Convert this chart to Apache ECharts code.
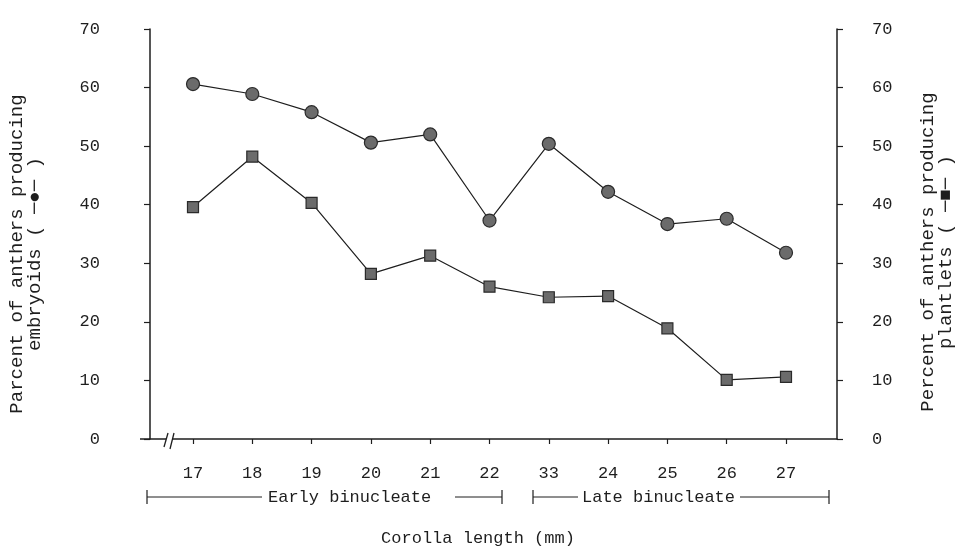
<!DOCTYPE html>
<html>
<head>
<meta charset="utf-8">
<script src="https://cdn.jsdelivr.net/npm/echarts@6/dist/echarts.min.js"></script>
<style>
html,body{margin:0;padding:0;background:#fff;}
#c{width:959px;height:550px;}
</style>
</head>
<body>
<div id="c"></div>
<script>
// Corolla length (mm) positions
const corollaLength = [17, 18, 19, 20, 21, 22, 23, 24, 25, 26, 27];
// tick labels as printed in the figure
const tickLabels = ['17', '18', '19', '20', '21', '22', '33', '24', '25', '26', '27'];
// Percent of anthers producing embryoids (circles)
const embryoids = [60.6, 58.9, 55.8, 50.6, 52.0, 37.3, 50.4, 42.2, 36.7, 37.6, 31.8];
// Percent of anthers producing plantlets (squares)
const plantlets = [39.6, 48.2, 40.3, 28.2, 31.3, 26.0, 24.2, 24.4, 18.9, 10.1, 10.6];
const yTicks = [0, 10, 20, 30, 40, 50, 60, 70];

const FONT = "'Liberation Mono', 'Courier New', 'DejaVu Sans Mono', monospace";
const INK = '#1e1e1e';

const chart = echarts.init(document.getElementById('c'), null, {renderer: 'canvas'});

const pairs = (ys) => corollaLength.map((x, i) => [x, ys[i]]);

const yAxisCommon = {
  type: 'value',
  min: 0, max: 70, interval: 10,
  splitLine: {show: false},
  axisLine: {show: true, lineStyle: {color: INK, width: 1.5}},
  axisTick: {show: true, inside: false, length: 6, lineStyle: {color: INK, width: 1.2}},
  nameLocation: 'middle',
  nameRotate: 90
};

const option = {
  backgroundColor: '#fff',
  animation: false,
  grid: {left: 150, right: 122, top: 29, bottom: 111, outerBoundsMode: 'none', containLabel: false},
  xAxis: {
    type: 'value',
    min: 16.275, max: 27.86,
    splitLine: {show: false},
    axisLine: {show: true, lineStyle: {color: INK, width: 1.5}},
    axisTick: {show: true, inside: false, length: 5, customValues: corollaLength, lineStyle: {color: INK, width: 1.2}},
    axisLabel: {
      show: true, customValues: corollaLength, margin: 26,
      fontFamily: FONT, fontSize: 17, color: INK,
      formatter: (v) => tickLabels[corollaLength.indexOf(Math.round(v))] || ''
    }
  },
  yAxis: [
    Object.assign({}, yAxisCommon, {
      position: 'left',
      name: 'Parcent of anthers producing\nembryoids ( ─●─ )',
      nameGap: 106,
      nameTextStyle: {fontFamily: FONT, fontSize: 19, color: INK, lineHeight: 18, align: 'center', padding: [0, 40, 0, 0]},
      axisLabel: {margin: 50, fontFamily: FONT, fontSize: 17, color: INK, align: 'right', padding: [0, 0, 12, 0],
        customValues: yTicks}
    }),
    Object.assign({}, yAxisCommon, {
      position: 'right',
      name: 'Percent of anthers producing\nplantlets ( ─■─ )',
      nameGap: 82,
      nameTextStyle: {fontFamily: FONT, fontSize: 19, color: INK, lineHeight: 18, align: 'center', padding: [0, 36, 0, 0]},
      axisLabel: {margin: 35, fontFamily: FONT, fontSize: 17, color: INK, align: 'left', padding: [0, 0, 12, 0],
        customValues: yTicks}
    })
  ],
  series: [
    {
      name: 'embryoids', type: 'line', yAxisIndex: 0,
      data: pairs(embryoids),
      symbol: 'circle', symbolSize: 13,
      lineStyle: {color: INK, width: 1.2},
      itemStyle: {color: '#6b6b6b', borderColor: '#2a2a2a', borderWidth: 1.2}
    },
    {
      name: 'plantlets', type: 'line', yAxisIndex: 1,
      data: pairs(plantlets),
      symbol: 'rect', symbolSize: 11,
      lineStyle: {color: INK, width: 1.2},
      itemStyle: {color: '#6b6b6b', borderColor: '#2a2a2a', borderWidth: 1.2}
    }
  ],
  graphic: [
    // small overhang of x axis left of the y axis
    {type: 'line', shape: {x1: 140, y1: 439, x2: 150, y2: 439}, style: {stroke: INK, lineWidth: 1.5}},
    // axis break on x axis
    {type: 'rect', shape: {x: 166, y: 436, width: 6, height: 7}, style: {fill: '#fff'}, z: 100},
    {type: 'line', shape: {x1: 164, y1: 447, x2: 168, y2: 433}, style: {stroke: INK, lineWidth: 1.3}, z: 101},
    {type: 'line', shape: {x1: 170, y1: 449, x2: 174, y2: 433}, style: {stroke: INK, lineWidth: 1.3}, z: 101},
    // Early binucleate bracket
    {type: 'line', shape: {x1: 147, y1: 490, x2: 147, y2: 504}, style: {stroke: INK, lineWidth: 1.2}},
    {type: 'line', shape: {x1: 147, y1: 497, x2: 262, y2: 497}, style: {stroke: INK, lineWidth: 1}},
    {type: 'text', x: 268, y: 497, style: {text: 'Early binucleate', font: '17px ' + FONT, fill: INK, verticalAlign: 'middle', align: 'left'}},
    {type: 'line', shape: {x1: 455, y1: 497, x2: 502, y2: 497}, style: {stroke: INK, lineWidth: 1}},
    {type: 'line', shape: {x1: 502, y1: 490, x2: 502, y2: 504}, style: {stroke: INK, lineWidth: 1.2}},
    // Late binucleate bracket
    {type: 'line', shape: {x1: 533, y1: 490, x2: 533, y2: 504}, style: {stroke: INK, lineWidth: 1.2}},
    {type: 'line', shape: {x1: 533, y1: 497, x2: 578, y2: 497}, style: {stroke: INK, lineWidth: 1}},
    {type: 'text', x: 582, y: 497, style: {text: 'Late binucleate', font: '17px ' + FONT, fill: INK, verticalAlign: 'middle', align: 'left'}},
    {type: 'line', shape: {x1: 740, y1: 497, x2: 829, y2: 497}, style: {stroke: INK, lineWidth: 1}},
    {type: 'line', shape: {x1: 829, y1: 490, x2: 829, y2: 504}, style: {stroke: INK, lineWidth: 1.2}},
    // x axis title
    {type: 'text', x: 478, y: 538, style: {text: 'Corolla length (mm)', font: '17px ' + FONT, fill: INK, verticalAlign: 'middle', align: 'center'}}
  ]
};

chart.setOption(option);
</script>
</body>
</html>
